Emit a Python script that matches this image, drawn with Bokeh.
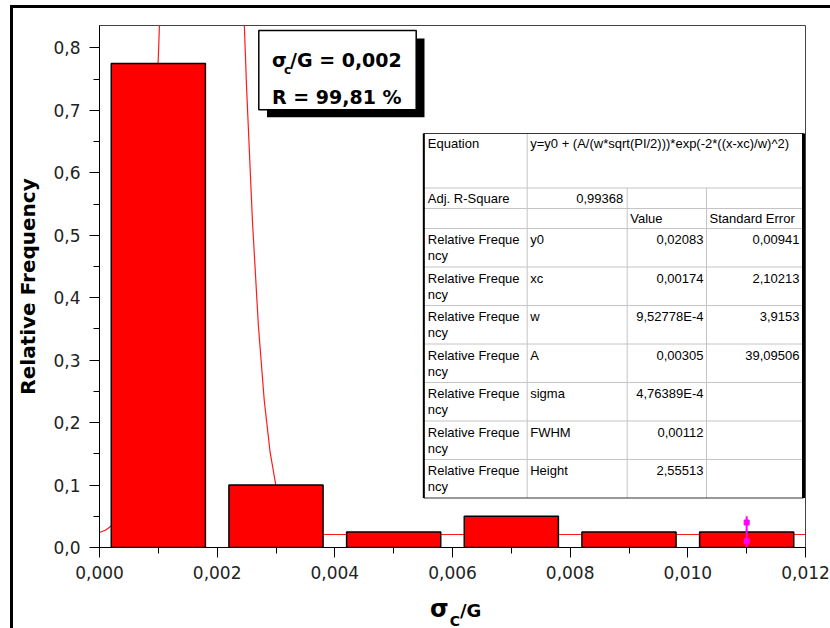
from bokeh.plotting import figure
from bokeh.models import FixedTicker, Range1d, Label, BoxAnnotation, Div
from bokeh.layouts import column
from bokeh.core.properties import value
from bokeh.embed import file_html
from bokeh.resources import INLINE

# ---------------- data ----------------
bin_centers = [0.001, 0.003, 0.005, 0.007, 0.009, 0.011]
rel_freq = [0.775, 0.100, 0.025, 0.050, 0.025, 0.025]
bin_width = 0.0016

fit_x = [0.0, 0.0001, 0.0002, 0.0003, 0.0004, 0.0005, 0.0006, 0.0007, 0.0008,
         0.0009, 0.0010, 0.0011, 0.0012, 0.00174, 0.0023, 0.0024, 0.0025,
         0.0026, 0.0027, 0.0028, 0.0029, 0.0030, 0.0031, 0.0032, 0.0033,
         0.0034, 0.0035, 0.0036, 0.0038, 0.0040, 0.0060, 0.0080, 0.0100, 0.0120]
fit_y = [0.0241, 0.0277, 0.0346, 0.0474, 0.0697, 0.1071, 0.1667, 0.2567, 0.3854,
         0.5607, 0.7853, 1.0571, 1.3648, 2.5760, 1.3012, 0.9994, 0.7365,
         0.5219, 0.3563, 0.2358, 0.1526, 0.0981, 0.0642, 0.0442, 0.0328,
         0.0267, 0.0236, 0.0221, 0.0210, 0.0208, 0.0208, 0.0208, 0.0208, 0.0208]

err_x = [0.011]
err_lo = [0.0]
err_hi = [0.05]
err_mark_x = [0.011, 0.011]
err_mark_y = [0.010, 0.040]

x_ticks = [0.0, 0.002, 0.004, 0.006, 0.008, 0.010, 0.012]
x_tick_labels = ["0,000", "0,002", "0,004", "0,006", "0,008", "0,010", "0,012"]
x_minor = [0.001, 0.003, 0.005, 0.007, 0.009, 0.011]
y_ticks = [0.0, 0.1, 0.2, 0.3, 0.4, 0.5, 0.6, 0.7, 0.8]
y_tick_labels = ["0,0", "0,1", "0,2", "0,3", "0,4", "0,5", "0,6", "0,7", "0,8"]
y_minor = [0.05, 0.15, 0.25, 0.35, 0.45, 0.55, 0.65, 0.75]

x_title = ["σ", "C", "/G"]
y_title = "Relative Frequency"
box_line1 = ["σ", "c", "/G = 0,002"]
box_line2 = "R = 99,81 %"

eq_label = "Equation"
eq_text = "y=y0 + (A/(w*sqrt(PI/2)))*exp(-2*((x-xc)/w)^2)"
adj_label = "Adj. R-Square"
adj_value = "0,99368"
head_value = "Value"
head_error = "Standard Error"
row_name1 = "Relative Freque"
row_name2 = "ncy"
table_params = ["y0", "xc", "w", "A", "sigma", "FWHM", "Height"]
table_values = ["0,02083", "0,00174", "9,52778E-4", "0,00305", "4,76389E-4", "0,00112", "2,55513"]
table_errors = ["0,00941", "2,10213", "3,9153", "39,09506", "", "", ""]

X_MAX = 0.012
Y_MAX = 0.836

# ---------------- layout (page pixels) ----------------
CANVAS_X0, CANVAS_Y0 = 13, 8
W, H = 817, 587            # figure canvas: page x 13..830, y 8..595
DIV_H = 33                 # x-title strip: page y 595..628
FL, FR, FT, FB = 99, 805, 25, 547


def X(px):
    return (px - FL) / (FR - FL) * X_MAX


def Y(py):
    return (FB - py) / (FB - FT) * Y_MAX


p = figure(width=W, height=H, x_range=Range1d(0, X_MAX), y_range=Range1d(0, Y_MAX),
           output_backend="svg", toolbar_location=None,
           min_border_left=FL - CANVAS_X0, min_border_right=CANVAS_X0 + W - FR,
           min_border_top=FT - CANVAS_Y0, min_border_bottom=CANVAS_Y0 + H - FB)
p.background_fill_color = "white"
p.border_fill_color = "white"
p.outline_line_color = "#444444"
p.outline_line_width = 1
p.xgrid.visible = False
p.ygrid.visible = False

for ax, ticks, minor, labels in ((p.xaxis[0], x_ticks, x_minor, x_tick_labels),
                                 (p.yaxis[0], y_ticks, y_minor, y_tick_labels)):
    ax.ticker = FixedTicker(ticks=ticks, minor_ticks=minor)
    ax.major_label_overrides = dict(zip(ticks, labels))
    ax.major_tick_out = 10
    ax.major_tick_in = 0
    ax.minor_tick_out = 6
    ax.minor_tick_in = 0
    ax.axis_line_color = "black"
    ax.major_tick_line_color = "black"
    ax.minor_tick_line_color = "black"
    ax.major_label_text_font = "DejaVu Sans"
    ax.major_label_text_font_size = "17px"
    ax.major_label_text_color = "#222222"

p.xaxis.major_label_standoff = 8
p.yaxis.major_label_standoff = 9
p.yaxis.axis_label = y_title
p.yaxis.axis_label_text_font = "DejaVu Sans"
p.yaxis.axis_label_text_font_style = "bold"
p.yaxis.axis_label_text_font_size = "20px"
p.yaxis.axis_label_text_color = "black"
p.yaxis.axis_label_standoff = 10

# ---------------- marks ----------------
p.line(fit_x, fit_y, line_color="#ff1a1a", line_width=1.2)
p.vbar(x=bin_centers, top=rel_freq, bottom=0, width=bin_width,
       fill_color="#ff0000", line_color="black", line_width=1.5)
p.segment(x0=err_x, y0=err_lo, x1=err_x, y1=err_hi, line_color="#ff00ff", line_width=2)
p.scatter(x=err_mark_x, y=err_mark_y, marker="square", size=5,
          fill_color="#ff00ff", line_color="#ff00ff")

# ---------------- parameter table ----------------
TL, TR, TT, TB = 423.3, 803, 133, 497.5
cols = [423.3, 526.7, 626.7, 706, 803]
rows = [133, 187.5, 208, 228, 266.5, 305, 343.5, 382, 420.5, 459, 497.5]

p.quad(left=[X(TL)], right=[X(TR)], top=[Y(TT)], bottom=[Y(TB)],
       fill_color="white", line_color=None)
gx0, gy0, gx1, gy1 = [], [], [], []
for r in rows[1:-1]:
    gx0.append(X(TL)); gx1.append(X(TR)); gy0.append(Y(r)); gy1.append(Y(r))
gx0.append(X(cols[1])); gx1.append(X(cols[1])); gy0.append(Y(TT)); gy1.append(Y(TB))
for c in cols[2:4]:
    gx0.append(X(c)); gx1.append(X(c)); gy0.append(Y(rows[1])); gy1.append(Y(TB))
p.segment(x0=gx0, y0=gy0, x1=gx1, y1=gy1, line_color="#c4c4c4", line_width=1)
p.quad(left=[X(TL)], right=[X(TR)], top=[Y(TT)], bottom=[Y(TB)],
       fill_color=None, line_color="#333333", line_width=1)
p.segment(x0=[X(TR), X(TL)], y0=[Y(TT), Y(TT)], x1=[X(TR), X(TL)], y1=[Y(TB), Y(TB)],
          line_color="black", line_width=[3, 2])

lt_x, lt_y, lt_t = [], [], []
rt_x, rt_y, rt_t = [], [], []
lt_x += [X(cols[0] + 4), X(cols[1] + 3)]
lt_y += [Y(rows[0] + 10), Y(rows[0] + 10)]
lt_t += [eq_label, eq_text]
lt_x.append(X(cols[0] + 4)); lt_y.append(Y((rows[1] + rows[2]) / 2)); lt_t.append(adj_label)
rt_x.append(X(cols[2] - 4)); rt_y.append(Y((rows[1] + rows[2]) / 2)); rt_t.append(adj_value)
lt_x += [X(cols[2] + 3), X(cols[3] + 3)]
lt_y += [Y((rows[2] + rows[3]) / 2)] * 2
lt_t += [head_value, head_error]
for i, (nm, v, e) in enumerate(zip(table_params, table_values, table_errors)):
    top = rows[3 + i]
    lt_x += [X(cols[0] + 4), X(cols[0] + 4), X(cols[1] + 3)]
    lt_y += [Y(top + 11), Y(top + 27), Y(top + 11)]
    lt_t += [row_name1, row_name2, nm]
    rt_x += [X(cols[3] - 3), X(cols[4] - 4)]
    rt_y += [Y(top + 11), Y(top + 11)]
    rt_t += [v, e]

p.text(x=lt_x, y=lt_y, text=lt_t, text_font=value("Liberation Sans"), text_font_size="13px",
       text_color="black", text_align="left", text_baseline="middle")
p.text(x=rt_x, y=rt_y, text=rt_t, text_font=value("Liberation Sans"), text_font_size="13px",
       text_color="black", text_align="right", text_baseline="middle")

# ---------------- annotation box ----------------
p.add_layout(BoxAnnotation(left=X(266.5), right=X(424), top=Y(38), bottom=Y(116.7),
                           fill_color="black", fill_alpha=1, line_color=None))
p.add_layout(BoxAnnotation(left=X(258.3), right=X(415.7), top=Y(30), bottom=Y(109.3),
                           fill_color="white", fill_alpha=1, line_color="black",
                           line_width=1.5, line_alpha=1))


def lab(px, py, text, size):
    p.add_layout(Label(x=X(px), y=Y(py), text=text, text_font="DejaVu Sans",
                       text_font_size=size, text_font_style="bold",
                       text_color="black", text_baseline="alphabetic", text_align="left"))


lab(271.5, 59.3, box_line1[0], "19px")
lab(283.5, 69.5, box_line1[1], "12px")
lab(289.5, 59.3, box_line1[2], "19px")
lab(271.5, 96.7, box_line2, "19px")

# ---------------- x-axis title strip (sigma_C / G) ----------------
title_html = (
    '<div style="position:absolute;left:{left}px;top:-3px;white-space:nowrap;'
    "font-family:'DejaVu Sans';font-weight:bold;line-height:24px;color:black;\">"
    '<span style="font-size:24px;">{s}</span>'
    '<span style="font-size:14px;position:relative;top:9px;margin-left:1px;">{c}</span>'
    '<span style="font-size:18px;">{g}</span></div>'
).format(left=425 - CANVAS_X0, s=x_title[0], c=x_title[1], g=x_title[2])
div = Div(text=title_html, width=W, height=DIV_H,
          styles={"position": "relative", "overflow": "visible", "background": "white"})

layout = column(p, div, spacing=0)
layout.margin = (CANVAS_Y0, 0, 0, CANVAS_X0)
layout.styles = {"box-shadow": "-3px 0 0 0 black, 0 -3px 0 0 black, -3px -3px 0 0 black",
                 "background": "white"}

open("out.html", "w").write(file_html(layout, INLINE))
